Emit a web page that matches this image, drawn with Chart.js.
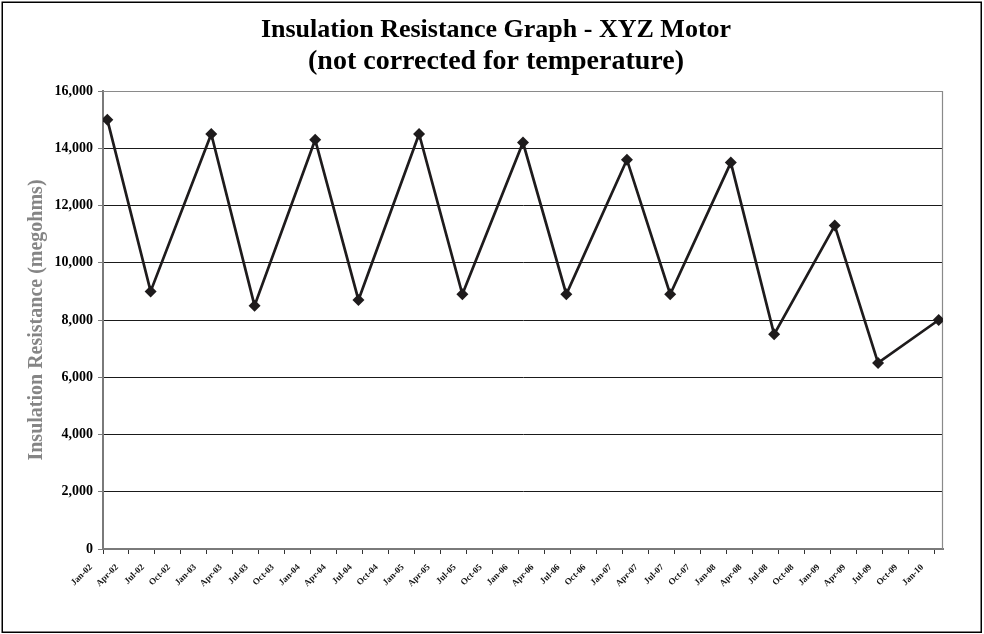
<!DOCTYPE html>
<html>
<head>
<meta charset="utf-8">
<script src="https://cdn.jsdelivr.net/npm/chart.js@4.4.1/dist/chart.umd.min.js"></script>
<style>
html,body{margin:0;padding:0;background:#fff;}
canvas{display:block;}
</style>
</head>
<body>
<canvas id="c" width="984" height="634"></canvas>
<script>
// Quarterly tick labels on the date axis
const tickLabels = [
  'Jan-02','Apr-02','Jul-02','Oct-02',
  'Jan-03','Apr-03','Jul-03','Oct-03',
  'Jan-04','Apr-04','Jul-04','Oct-04',
  'Jan-05','Apr-05','Jul-05','Oct-05',
  'Jan-06','Apr-06','Jul-06','Oct-06',
  'Jan-07','Apr-07','Jul-07','Oct-07',
  'Jan-08','Apr-08','Jul-08','Oct-08',
  'Jan-09','Apr-09','Jul-09','Oct-09',
  'Jan-10'
];
// Test dates (categories of the measurements)
const testDates = [
  'Jan-02','Jun-02','Jan-03','Jun-03','Jan-04','Jun-04','Jan-05','Jun-05',
  'Jan-06','Jun-06','Jan-07','Jun-07','Jan-08','Jun-08','Jan-09','Jun-09','Jan-10'
];
// Insulation resistance (megohms)
const resistance = [
  15000, 9000, 14500, 8500, 14300, 8700, 14500, 8900,
  14200, 8900, 13600, 8900, 13500, 7500, 11300, 6500, 8000
];
const yTickValues = [0, 2000, 4000, 6000, 8000, 10000, 12000, 14000, 16000];

const MONTHS = ['Jan','Feb','Mar','Apr','May','Jun','Jul','Aug','Sep','Oct','Nov','Dec'];
const baseYear = parseInt(tickLabels[0].split('-')[1], 10);
function monthIndex(label) {
  const parts = label.split('-');
  return (parseInt(parts[1], 10) - baseYear) * 12 + MONTHS.indexOf(parts[0]);
}
const tickMonths = tickLabels.map(monthIndex);
const points = testDates.map((d, i) => ({ x: monthIndex(d) + 0.5, y: resistance[i] }));
const xMax = tickMonths[tickMonths.length - 1] + 1;

const SERIF = '"Liberation Serif", "Times New Roman", Times, serif';

const frame = {
  id: 'frame',
  beforeDraw(chart) {
    const ctx = chart.ctx;
    ctx.save();
    ctx.fillStyle = '#ffffff';
    ctx.fillRect(0, 0, chart.width, chart.height);
    ctx.strokeStyle = '#000000';
    ctx.lineWidth = 1.5;
    ctx.strokeRect(2.25, 2.25, 979, 630);
    ctx.restore();
  },
  beforeDatasetsDraw(chart) {
    const a = chart.chartArea;
    const ctx = chart.ctx;
    ctx.save();
    ctx.strokeStyle = '#8a8a8a';
    ctx.lineWidth = 1.2;
    ctx.beginPath();
    ctx.moveTo(a.left, a.top + 0.5);
    ctx.lineTo(a.right - 0.5, a.top + 0.5);
    ctx.lineTo(a.right - 0.5, a.bottom);
    ctx.stroke();
    ctx.restore();
  }
};

new Chart(document.getElementById('c'), {
  type: 'line',
  data: {
    datasets: [{
      data: points,
      borderColor: '#1e1b1c',
      backgroundColor: '#1e1b1c',
      borderWidth: 2.7,
      pointStyle: 'rectRot',
      pointRadius: 6,
      pointBorderWidth: 0,
      pointBackgroundColor: '#1e1b1c',
      tension: 0,
      fill: false
    }]
  },
  options: {
    responsive: false,
    animation: false,
    events: [],
    layout: { padding: { left: 8, right: 0, top: 0, bottom: 0 } },
    plugins: {
      legend: { display: false },
      tooltip: { enabled: false },
      title: {
        display: true,
        text: 'Insulation Resistance Graph - XYZ Motor',
        color: '#000',
        font: { family: SERIF, size: 26, weight: 'bold', lineHeight: '32px' },
        padding: { top: 14, bottom: 0 }
      },
      subtitle: {
        display: true,
        text: '(not corrected for temperature)',
        color: '#000',
        font: { family: SERIF, size: 28, weight: 'bold', lineHeight: '32px' },
        padding: { top: 0, bottom: 13 }
      }
    },
    scales: {
      x: {
        type: 'linear',
        min: 0,
        max: xMax,
        afterBuildTicks(scale) {
          scale.ticks = tickMonths.map(m => ({ value: m }));
        },
        afterFit(scale) { scale.height = 85; },
        border: { display: true, color: '#7a7a7a', width: 2 },
        grid: {
          display: true,
          drawOnChartArea: false,
          drawTicks: true,
          tickLength: 5,
          tickColor: '#333'
        },
        ticks: {
          autoSkip: false,
          minRotation: 45,
          maxRotation: 45,
          padding: 8,
          labelOffset: -12,
          color: '#111',
          font: { family: SERIF, size: 9, weight: 'bold' },
          callback(value) {
            const i = tickMonths.indexOf(value);
            return i >= 0 ? tickLabels[i] : '';
          }
        }
      },
      y: {
        min: 0,
        max: 16000,
        afterBuildTicks(scale) {
          scale.ticks = yTickValues.map(v => ({ value: v }));
        },
        afterFit(scale) { scale.width = 95; },
        border: { display: true, color: '#7a7a7a', width: 2 },
        grid: {
          color: '#1a1a1a',
          lineWidth: 1,
          drawTicks: true,
          tickLength: 5,
          tickColor: '#7a7a7a'
        },
        ticks: {
          padding: 5,
          color: '#000',
          font: { family: SERIF, size: 14, weight: 'bold' },
          callback(value) { return value.toLocaleString('en-US'); }
        },
        title: {
          display: true,
          text: 'Insulation Resistance (megohms)',
          color: '#858585',
          font: { family: SERIF, size: 20, weight: 'bold', lineHeight: 1.2 },
          padding: { top: 17, bottom: 0 }
        }
      },
      rightMargin: {
        position: 'right',
        display: true,
        min: 0,
        max: 1,
        afterFit(scale) { scale.width = 41; },
        border: { display: false },
        grid: { display: false, drawTicks: false },
        ticks: { display: false }
      }
    }
  },
  plugins: [frame]
});
</script>
</body>
</html>
